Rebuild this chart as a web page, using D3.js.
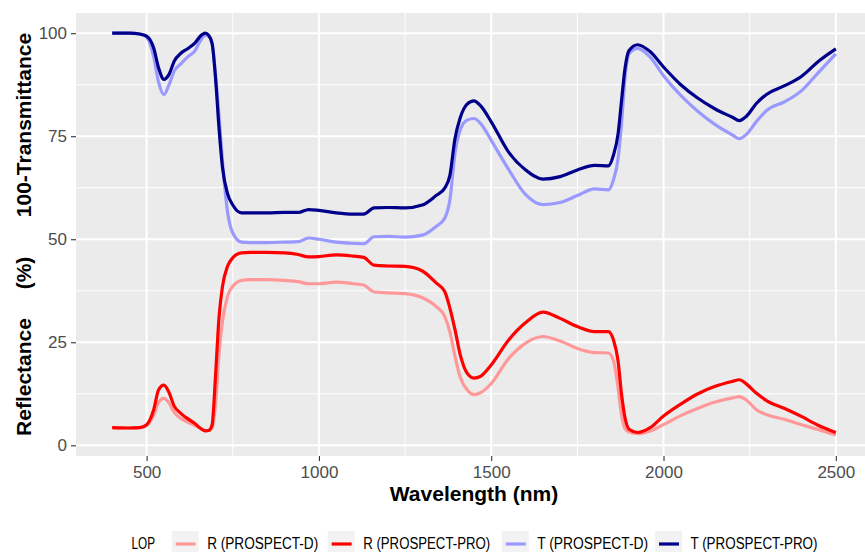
<!DOCTYPE html>
<html>
<head>
<meta charset="utf-8">
<script src="https://cdn.jsdelivr.net/npm/d3@7"></script>
<style>
  body { margin: 0; background: #fff; }
  svg { display: block; font-family: "Liberation Sans", Arial, sans-serif; }
</style>
</head>
<body>
<div id="chart"></div>
<script>
// wavelengths shared by all four spectra (nm)
var wavelengths = [400, 450, 480, 500, 520, 535, 550, 565, 580, 600, 620, 640, 655, 670, 680, 690, 700, 710, 720, 735, 750, 775, 800, 850, 900, 940, 970, 1000, 1050, 1100, 1130, 1160, 1200, 1250, 1300, 1340, 1365, 1380, 1395, 1410, 1430, 1450, 1470, 1500, 1550, 1600, 1650, 1700, 1750, 1800, 1840, 1855, 1868, 1878, 1888, 1900, 1925, 1960, 2000, 2050, 2100, 2150, 2200, 2220, 2240, 2270, 2300, 2350, 2400, 2450, 2500];

var reflD = [4.3, 4.2, 4.3, 4.8, 7.2, 10.5, 11.4, 10.3, 8, 6.5, 5.6, 4.8, 4.2, 3.5, 3.6, 4.3, 10, 22, 30, 36.2, 38.6, 40, 40.2, 40.2, 40, 39.7, 39.2, 39.2, 39.6, 39.2, 38.9, 37.2, 37, 36.8, 35.8, 33.7, 31.3, 27.5, 21.5, 16.5, 13.5, 12.3, 12.8, 15, 21, 24.8, 26.4, 25.3, 23.5, 22.5, 22.4, 20.5, 14, 7.5, 4.1, 3.2, 2.8, 3.4, 5, 7.2, 9, 10.5, 11.5, 11.8, 11, 8.6, 7.4, 6.3, 5, 3.8, 2.5];

var reflPro = [4.3, 4.2, 4.3, 5, 8.5, 13.5, 14.6, 12.8, 9.5, 7.7, 6.4, 5.3, 4.2, 3.5, 3.6, 5, 17, 31, 38.5, 43.5, 45.5, 46.7, 46.8, 46.8, 46.7, 46.3, 45.7, 45.8, 46.2, 45.9, 45.6, 43.7, 43.5, 43.4, 42.3, 39.4, 37.3, 33.3, 28, 22, 17.5, 16.3, 16.8, 19.5, 25.5, 29.8, 32.3, 30.8, 28.8, 27.6, 27.6, 25.5, 20.5, 12.5, 6.8, 3.9, 3.1, 4.2, 7.1, 10, 12.5, 14.3, 15.5, 15.9, 14.9, 12.6, 10.8, 9, 7, 4.8, 3.1];

var transD = [100, 100, 99.8, 99, 94.5, 88, 85.1, 87.5, 90.8, 92.6, 94.3, 95.7, 98, 99.5, 99.2, 97.5, 90, 80, 69, 56.5, 51.5, 49.3, 49.2, 49.2, 49.3, 49.4, 50.3, 50, 49.3, 49, 48.9, 50.6, 50.7, 50.5, 51, 53.1, 55.1, 59.5, 71, 76.5, 78.9, 79.3, 78, 74, 67, 60.8, 58.4, 58.9, 60.6, 62.2, 62, 64.5, 69.5, 78, 89, 95, 96.3, 94.3, 89.7, 84.9, 81, 77.8, 75.3, 74.4, 75.4, 78.6, 81.3, 83.3, 86, 90.5, 95];

var transPro = [100, 100, 99.8, 99.3, 96.5, 91.5, 88.8, 90, 93.2, 95.2, 96.3, 97.6, 99.2, 100, 99.5, 97.5, 89, 77, 67.5, 61, 58.3, 56.4, 56.4, 56.4, 56.5, 56.5, 57.2, 57, 56.4, 56.1, 56.1, 57.6, 57.7, 57.6, 58.3, 60.6, 62.4, 65.5, 74.5, 79.5, 82.8, 83.6, 82.3, 78.5, 71.2, 66.8, 64.6, 65.2, 66.8, 67.9, 67.8, 70.5, 75.5, 83.5, 91.3, 95.8, 97.2, 95.6, 91.8, 87.5, 84.2, 81.6, 79.6, 78.8, 79.8, 83, 85.2, 87.2, 89.5, 93.2, 96.2];

var seriesNames = ["R (PROSPECT-D)", "R (PROSPECT-PRO)", "T (PROSPECT-D)", "T (PROSPECT-PRO)"];
var seriesColors = ["#FF9999", "#FF0000", "#9999FF", "#00008B"];
var seriesValues = [reflD, reflPro, transD, transPro];

var xTicks = [500, 1000, 1500, 2000, 2500];
var xMinor = [750, 1250, 1750, 2250];
var yTicks = [0, 25, 50, 75, 100];
var yMinor = [12.5, 37.5, 62.5, 87.5];

var W = 865, H = 552;
var panel = { left: 76, top: 13, right: 872, bottom: 456 };

var svg = d3.select("#chart").append("svg")
    .attr("width", W)
    .attr("height", H);

var x = d3.scaleLinear().domain([295, 2605]).range([panel.left, panel.right]);
var y = d3.scaleLinear().domain([-2.6, 104.9]).range([panel.bottom, panel.top]);

// panel background
svg.append("rect")
    .attr("x", panel.left).attr("y", panel.top)
    .attr("width", panel.right - panel.left)
    .attr("height", panel.bottom - panel.top)
    .attr("fill", "#EBEBEB");

// grid lines
var grid = svg.append("g");
grid.selectAll(".ymin").data(yMinor).enter().append("line")
    .attr("x1", panel.left).attr("x2", panel.right)
    .attr("y1", d => y(d)).attr("y2", d => y(d))
    .attr("stroke", "#fff").attr("stroke-width", 1);
grid.selectAll(".xmin").data(xMinor).enter().append("line")
    .attr("y1", panel.top).attr("y2", panel.bottom)
    .attr("x1", d => x(d)).attr("x2", d => x(d))
    .attr("stroke", "#fff").attr("stroke-width", 1);
grid.selectAll(".ymaj").data(yTicks).enter().append("line")
    .attr("x1", panel.left).attr("x2", panel.right)
    .attr("y1", d => y(d)).attr("y2", d => y(d))
    .attr("stroke", "#fff").attr("stroke-width", 2);
grid.selectAll(".xmaj").data(xTicks).enter().append("line")
    .attr("y1", panel.top).attr("y2", panel.bottom)
    .attr("x1", d => x(d)).attr("x2", d => x(d))
    .attr("stroke", "#fff").attr("stroke-width", 2);

// spectra
var line = d3.line()
    .x(function (d) { return x(d[0]); })
    .y(function (d) { return y(d[1]); })
    .curve(d3.curveMonotoneX);

seriesValues.forEach(function (vals, i) {
    svg.append("path")
        .datum(wavelengths.map((w, j) => [w, vals[j]]))
        .attr("fill", "none")
        .attr("stroke", seriesColors[i])
        .attr("stroke-width", 3.2)
        .attr("stroke-linejoin", "round")
        .attr("d", line);
});

// axes
var xAxis = svg.append("g")
    .attr("transform", "translate(0," + panel.bottom + ")")
    .call(d3.axisBottom(x).tickValues(xTicks).tickFormat(d3.format("d")).tickSize(5).tickPadding(4));
var yAxis = svg.append("g")
    .attr("transform", "translate(" + panel.left + ",0)")
    .call(d3.axisLeft(y).tickValues(yTicks).tickFormat(d3.format("d")).tickSize(5).tickPadding(4));

[xAxis, yAxis].forEach(function (g) {
    g.select(".domain").remove();
    g.selectAll(".tick line").attr("stroke", "#333333").attr("stroke-width", 1.1);
    g.selectAll(".tick text")
        .attr("fill", "#4D4D4D")
        .style("font-size", "17px")
        .style("font-family", "'Liberation Sans', Arial, sans-serif");
});
xAxis.selectAll(".tick text").attr("dy", "0.75em");

// axis titles
svg.append("text")
    .attr("x", (panel.left + panel.right) / 2)
    .attr("y", 501)
    .attr("text-anchor", "middle")
    .style("font-size", "21px")
    .style("font-weight", "bold")
    .text("Wavelength (nm)");

var yTitleParts = [
    { t: "Reflectance", c: 377 },
    { t: "(%)", c: 273 },
    { t: "100-Transmittance", c: 125 }
];
yTitleParts.forEach(function (p) {
    svg.append("text")
        .attr("transform", "translate(31," + p.c + ") rotate(-90)")
        .attr("text-anchor", "middle")
        .style("font-size", "21px")
        .style("font-weight", "bold")
        .text(p.t);
});

// legend
var legend = svg.append("g");
legend.append("text")
    .attr("x", 131.5).attr("y", 548.5)
    .style("font-size", "16px")
    .attr("textLength", 23.5)
    .attr("lengthAdjust", "spacingAndGlyphs")
    .text("LOP");

var legendKeys = [171.7, 327.7, 501.7, 655];
var legendLabelW = [111, 127, 111, 127];
seriesNames.forEach(function (name, i) {
    var kx = legendKeys[i];
    legend.append("rect")
        .attr("x", kx).attr("y", 531)
        .attr("width", 27).attr("height", 21)
        .attr("fill", "#F2F2F2");
    legend.append("line")
        .attr("x1", kx + 4).attr("x2", kx + 24)
        .attr("y1", 544).attr("y2", 544)
        .attr("stroke", seriesColors[i])
        .attr("stroke-width", 3.2);
    legend.append("text")
        .attr("x", kx + 35.5).attr("y", 548.5)
        .style("font-size", "16px")
        .attr("textLength", legendLabelW[i])
        .attr("lengthAdjust", "spacingAndGlyphs")
        .text(name);
});
</script>
</body>
</html>
